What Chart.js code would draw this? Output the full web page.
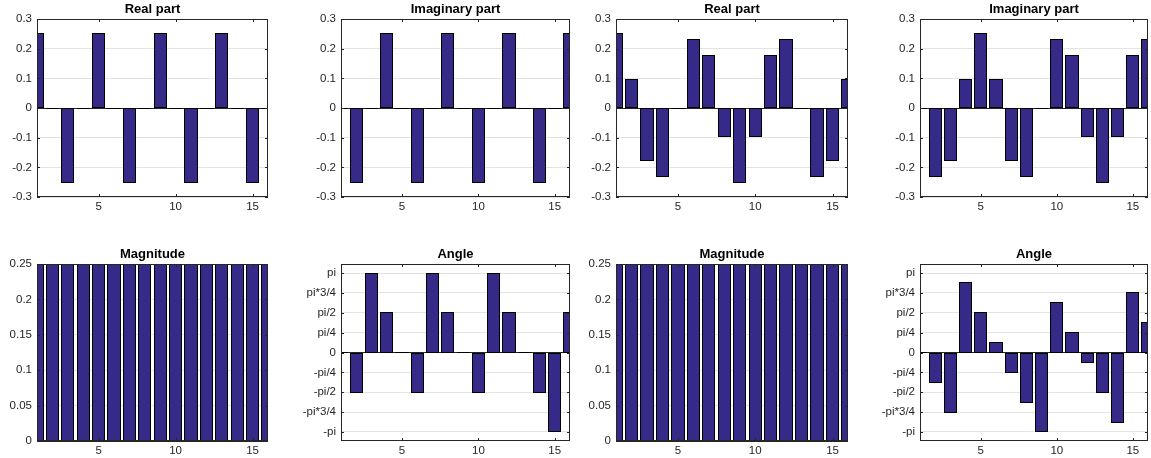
<!DOCTYPE html>
<html lang="en">

<head>
    <meta charset="UTF-8">
    <title>FFT bars</title>
    <script src="https://cdn.jsdelivr.net/npm/chart.js"></script>
    <style>
        body { margin: 0; background: #fff; overflow: hidden; }
        #painel { position: relative; width: 1151px; height: 458px; }
        canvas { position: absolute; }
    </style>
</head>

<body>
    <div id="painel"></div>
</body>

</html>

<script>
    // bin index 1..16
    const bins = [1, 2, 3, 4, 5, 6, 7, 8, 9, 10, 11, 12, 13, 14, 15, 16];
    const xTicks = [5, 10, 15];

    // first signal
    const real1 = [0.25, 0, -0.25, 0, 0.25, 0, -0.25, 0, 0.25, 0, -0.25, 0, 0.25, 0, -0.25, 0];
    const imag1 = [0, -0.25, 0, 0.25, 0, -0.25, 0, 0.25, 0, -0.25, 0, 0.25, 0, -0.25, 0, 0.25];
    const mag1 = [0.25, 0.25, 0.25, 0.25, 0.25, 0.25, 0.25, 0.25, 0.25, 0.25, 0.25, 0.25, 0.25, 0.25, 0.25, 0.25];
    const ang1 = [0, -1.5708, 3.1416, 1.5708, 0, -1.5708, 3.1416, 1.5708, 0, -1.5708, 3.1416, 1.5708, 0, -1.5708, -3.1416, 1.5708];

    // second signal
    const real2 = [0.25, 0.0957, -0.1768, -0.2310, 0, 0.2310, 0.1768, -0.0957, -0.25, -0.0957, 0.1768, 0.2310, 0, -0.2310, -0.1768, 0.0957];
    const imag2 = [0, -0.2310, -0.1768, 0.0957, 0.25, 0.0957, -0.1768, -0.2310, 0, 0.2310, 0.1768, -0.0957, -0.25, -0.0957, 0.1768, 0.2310];
    const mag2 = [0.25, 0.25, 0.25, 0.25, 0.25, 0.25, 0.25, 0.25, 0.25, 0.25, 0.25, 0.25, 0.25, 0.25, 0.25, 0.25];
    const ang2 = [0, -1.1781, -2.3562, 2.7489, 1.5708, 0.3927, -0.7854, -1.9635, -3.1416, 1.9635, 0.7854, -0.3927, -1.5708, -2.7489, 2.3562, 1.1781];

    // y axes
    const partTicks = [-0.3, -0.2, -0.1, 0, 0.1, 0.2, 0.3];
    const partLabels = ['-0.3', '-0.2', '-0.1', '0', '0.1', '0.2', '0.3'];
    const magTicks = [0, 0.05, 0.1, 0.15, 0.2, 0.25];
    const magLabels = ['0', '0.05', '0.1', '0.15', '0.2', '0.25'];
    const angTicks = [-Math.PI, -Math.PI * 3 / 4, -Math.PI / 2, -Math.PI / 4, 0, Math.PI / 4, Math.PI / 2, Math.PI * 3 / 4, Math.PI];
    const angLabels = ['-pi', '-pi*3/4', '-pi/2', '-pi/4', '0', 'pi/4', 'pi/2', 'pi*3/4', 'pi'];

    const eixos = {
        part: { min: -0.3, max: 0.3, ticks: partTicks, labels: partLabels },
        mag: { min: 0, max: 0.25, ticks: magTicks, labels: magLabels },
        ang: { min: -3.5, max: 3.5, ticks: angTicks, labels: angLabels }
    };

    const paineis = [
        { titulo: 'Real part', valores: real1, eixo: 'part', col: 0, lin: 0 },
        { titulo: 'Imaginary part', valores: imag1, eixo: 'part', col: 1, lin: 0 },
        { titulo: 'Real part', valores: real2, eixo: 'part', col: 2, lin: 0 },
        { titulo: 'Imaginary part', valores: imag2, eixo: 'part', col: 3, lin: 0 },
        { titulo: 'Magnitude', valores: mag1, eixo: 'mag', col: 0, lin: 1 },
        { titulo: 'Angle', valores: ang1, eixo: 'ang', col: 1, lin: 1 },
        { titulo: 'Magnitude', valores: mag2, eixo: 'mag', col: 2, lin: 1 },
        { titulo: 'Angle', valores: ang2, eixo: 'ang', col: 3, lin: 1 }
    ];

    // plot boxes
    const colEsq = [37, 341, 616, 920];
    const colDir = [268, 570, 848, 1148];
    const linTopo = [19, 264];
    const linBase = [197, 441];

    const margemEsq = 60, margemTopo = 22, margemDir = 6, margemBase = 22;
    const corBarra = '#352a87';
    const corEixo = '#262626';
    const fonte = 'Liberation Sans, Helvetica, Arial, sans-serif';

    // MATLAB-like bar edges, box, inner ticks and title
    const caixa = {
        id: 'caixa',
        afterDatasetsDraw(chart) {
            const { ctx, chartArea: a } = chart;
            const x = chart.scales.x, y = chart.scales.y;
            ctx.save();

            // snap each bar to whole pixels and give it a centred black edge
            ctx.save();
            ctx.beginPath();
            ctx.rect(a.left, a.top, a.right - a.left, a.bottom - a.top);
            ctx.clip();
            ctx.strokeStyle = '#000';
            ctx.fillStyle = corBarra;
            ctx.lineWidth = 1;
            chart.getDatasetMeta(0).data.forEach(b => {
                const l = Math.floor(b.x - b.width / 2) + 0.5;
                const r = Math.floor(b.x + b.width / 2) + 0.5;
                const t = Math.floor(Math.min(b.y, b.base)) + 0.5;
                const d = Math.floor(Math.max(b.y, b.base)) + 0.5;
                ctx.fillRect(l, t, r - l, d - t);
                ctx.strokeRect(l, t, r - l, d - t);
            });
            ctx.restore();

            ctx.strokeStyle = corEixo;
            ctx.lineWidth = 1;
            ctx.strokeRect(a.left + 0.5, a.top + 0.5, a.right - a.left - 1, a.bottom - a.top - 1);
            ctx.beginPath();
            xTicks.forEach(v => {
                const px = Math.round(x.getPixelForValue(v)) + 0.5;
                ctx.moveTo(px, a.bottom); ctx.lineTo(px, a.bottom - 3);
                ctx.moveTo(px, a.top); ctx.lineTo(px, a.top + 3);
            });
            y.ticks.forEach(t => {
                const py = Math.round(y.getPixelForValue(t.value)) + 0.5;
                ctx.moveTo(a.left, py); ctx.lineTo(a.left + 3, py);
                ctx.moveTo(a.right, py); ctx.lineTo(a.right - 3, py);
            });
            ctx.stroke();

            ctx.fillStyle = '#000';
            ctx.font = 'bold 13px ' + fonte;
            ctx.textAlign = 'center';
            ctx.textBaseline = 'alphabetic';
            ctx.fillText(chart.options.plugins.caixa.titulo, (a.left + a.right) / 2, a.top - 6.5);
            ctx.restore();
        }
    };

    const painel = document.getElementById('painel');

    paineis.forEach(p => {
        const e = eixos[p.eixo];
        const w = colDir[p.col] - colEsq[p.col];
        const h = linBase[p.lin] - linTopo[p.lin];
        const canvas = document.createElement('canvas');
        canvas.width = w + margemEsq + margemDir;
        canvas.height = h + margemTopo + margemBase;
        canvas.style.left = (colEsq[p.col] - margemEsq) + 'px';
        canvas.style.top = (linTopo[p.lin] - margemTopo) + 'px';
        painel.appendChild(canvas);

        new Chart(canvas, {
            type: 'bar',
            data: {
                datasets: [{
                    data: bins.map((b, i) => ({ x: b, y: p.valores[i] })),
                    backgroundColor: corBarra,
                    borderWidth: 0,
                    inflateAmount: 0,
                    barPercentage: 0.8,
                    categoryPercentage: 1,
                    clip: 0
                }]
            },
            options: {
                responsive: false,
                animation: false,
                devicePixelRatio: 1,
                layout: { padding: { top: margemTopo, right: margemDir, left: 0, bottom: 0 } },
                plugins: {
                    legend: { display: false },
                    tooltip: { enabled: false },
                    caixa: { titulo: p.titulo }
                },
                scales: {
                    x: {
                        type: 'linear',
                        min: 1,
                        max: 16,
                        offset: false,
                        afterBuildTicks: ax => { ax.ticks = xTicks.map(v => ({ value: v })); },
                        afterFit: ax => { ax.height = margemBase; },
                        grid: { display: false, drawTicks: false },
                        border: { display: false },
                        ticks: { color: corEixo, padding: 3, maxRotation: 0, font: { family: fonte, size: 11.5 } }
                    },
                    y: {
                        min: e.min,
                        max: e.max,
                        afterBuildTicks: ax => { ax.ticks = e.ticks.map(v => ({ value: v })); },
                        afterFit: ax => { ax.width = margemEsq; },
                        grid: {
                            drawTicks: false,
                            color: c => (Math.abs(c.tick.value) < 1e-9 ? corEixo : '#e3e3e3')
                        },
                        border: { display: false },
                        ticks: {
                            color: corEixo,
                            padding: 5,
                            font: { family: fonte, size: 11.5 },
                            callback: (v, i) => e.labels[i]
                        }
                    }
                }
            },
            plugins: [caixa]
        });
    });
</script>
